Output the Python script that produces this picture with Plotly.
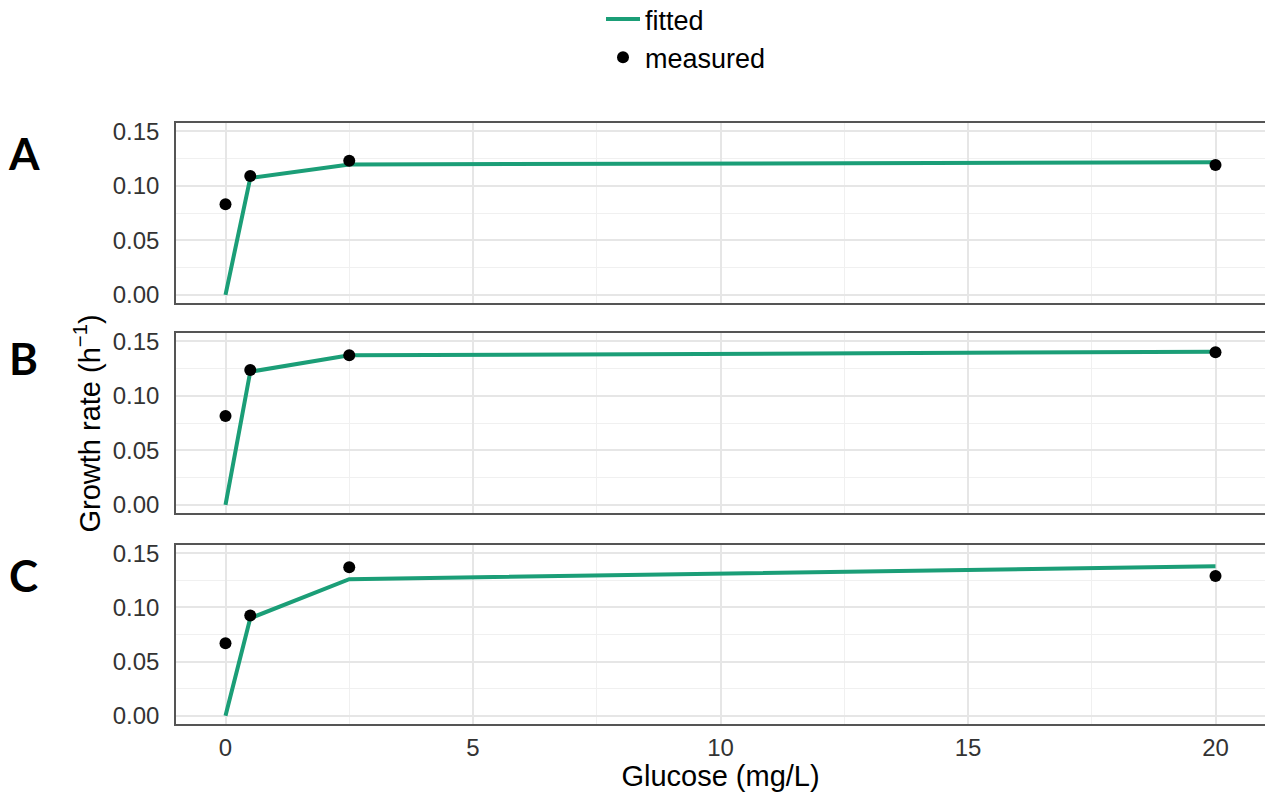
import plotly.graph_objects as go

glucose = [0, 0.5, 2.5, 20]
panels = ["A", "B", "C"]
measured = {
    "A": [0.083, 0.109, 0.123, 0.119],
    "B": [0.0815, 0.1235, 0.137, 0.1398],
    "C": [0.067, 0.0926, 0.137, 0.129],
}
fitted = {
    "A": [0.0, 0.107, 0.1195, 0.1215],
    "B": [0.0, 0.122, 0.137, 0.1403],
    "C": [0.0, 0.090, 0.126, 0.1378],
}
x_ticks = [0, 5, 10, 15, 20]
y_ticks = [0.0, 0.05, 0.10, 0.15]

W, H = 1265, 792
ML, MR, MT, MB = 176, 0, 123, 68
plot_h = H - MT - MB
plot_w = W - ML - MR
panel_px = [(123, 303), (333, 513), (545, 724)]
GREEN = "#1b9e77"
TICKFONT = dict(family="Liberation Sans, Arial, sans-serif", size=24, color="#333333")
TITLEFONT = dict(family="Liberation Sans, Arial, sans-serif", size=29, color="#000000")

fig = go.Figure()
layout = dict(
    width=W, height=H,
    margin=dict(l=ML, r=MR, t=MT, b=MB, autoexpand=False),
    plot_bgcolor="white", paper_bgcolor="white",
    showlegend=True,
    legend=dict(
        x=(601 - ML) / plot_w, xanchor="left",
        y=(H - MB + 5) / plot_h, yref="paper", yanchor="top",
        font=dict(family="Liberation Sans, Arial, sans-serif", size=27, color="#000000"),
        bgcolor="rgba(0,0,0,0)", tracegroupgap=0, itemwidth=34,
    ),
)

for i, p in enumerate(panels):
    sfx = "" if i == 0 else str(i + 1)
    top, bot = panel_px[i]
    dom = [(H - MB - bot) / plot_h, (H - MB - top) / plot_h]
    fig.add_trace(go.Scatter(
        x=glucose, y=fitted[p], mode="lines", name="fitted",
        line=dict(color=GREEN, width=4),
        xaxis="x" + sfx, yaxis="y" + sfx, showlegend=(i == 0),
    ))
    fig.add_trace(go.Scatter(
        x=glucose, y=measured[p], mode="markers", name="measured",
        marker=dict(color="black", size=12),
        xaxis="x" + sfx, yaxis="y" + sfx, showlegend=(i == 0),
    ))
    xa = dict(
        domain=[0, 1], anchor="y" + sfx, range=[-1, 21],
        tickvals=x_ticks, showticklabels=(i == 2), ticks="",
        ticklabelstandoff=1,
        tickfont=TICKFONT,
        showgrid=True, gridcolor="#e6e6e6", gridwidth=1.5,
        minor=dict(dtick=2.5, tick0=0, showgrid=True, gridcolor="#f0f0f0", gridwidth=1),
        showline=True, mirror=True, linecolor="#555555", linewidth=1.5,
        zeroline=False,
    )
    if i == 2:
        xa["title"] = dict(text="Glucose (mg/L)", font=TITLEFONT, standoff=2)
    if i != 0:
        xa["matches"] = "x"
    layout["xaxis" + sfx] = xa
    layout["yaxis" + sfx] = dict(
        domain=dom, anchor="x" + sfx, range=[-0.0075, 0.1575],
        tickvals=y_ticks, ticktext=["%.2f" % v for v in y_ticks], ticks="",
        ticklabelstandoff=10,
        tickfont=TICKFONT,
        showgrid=True, gridcolor="#e6e6e6", gridwidth=1.5,
        minor=dict(tickvals=[0.025, 0.075, 0.125], showgrid=True, gridcolor="#f0f0f0", gridwidth=1),
        showline=True, mirror=True, linecolor="#555555", linewidth=1.5,
        zeroline=False,
    )

annotations = []
label_y = [153, 358, 575]
for i, p in enumerate(panels):
    annotations.append(dict(
        text="<b>%s</b>" % p,
        x=(24 - ML) / plot_w, y=(H - label_y[i] - MB) / plot_h,
        xref="paper", yref="paper", xanchor="center", yanchor="middle",
        showarrow=False, font=dict(family="Lato, Open Sans, sans-serif", size=44, color="black"),
    ))

annotations.append(dict(
    text="Growth rate (h<sup>−1</sup>)", textangle=-90,
    x=(87 - ML) / plot_w, y=(H - MB - 423.5) / plot_h, xref="paper", yref="paper",
    xanchor="center", yanchor="middle", showarrow=False, font=TITLEFONT,
))
layout["annotations"] = annotations
fig.update_layout(**layout)
fig.write_html("out.html")
